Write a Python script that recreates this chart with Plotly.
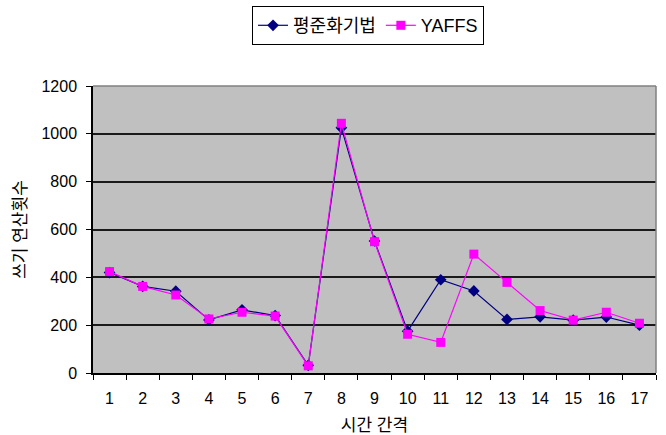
import plotly.graph_objects as go

# Time interval categories
intervals = [str(i) for i in range(1, 18)]

# Write operation counts per interval
leveling = [420, 362, 342, 222, 264, 240, 32, 1025, 552, 175, 390, 343, 224, 235, 221, 234, 200]
yaffs = [424, 362, 326, 226, 254, 238, 30, 1044, 549, 162, 128, 497, 379, 261, 221, 254, 208]

y_ticks = [0, 200, 400, 600, 800, 1000, 1200]

font_main = "Liberation Sans, Noto Sans CJK KR, sans-serif"

fig = go.Figure()
fig.add_trace(go.Scatter(
    x=intervals, y=leveling, name="평준화기법", mode="lines+markers",
    line=dict(color="#000080", width=1.2),
    marker=dict(symbol="diamond", size=9, color="#000080"),
))
fig.add_trace(go.Scatter(
    x=intervals, y=yaffs, name="YAFFS", mode="lines+markers",
    line=dict(color="#FF00FF", width=1.2),
    marker=dict(symbol="square", size=9, color="#FF00FF"),
))

fig.update_layout(
    width=666, height=435,
    margin=dict(l=93, r=10, t=86, b=62, autoexpand=False),
    paper_bgcolor="white",
    plot_bgcolor="#C0C0C0",
    font=dict(family=font_main, size=16, color="black"),
    showlegend=True,
    legend=dict(
        orientation="h", xref="container", yref="container",
        x=0.5526, xanchor="center", y=0.986, yanchor="top",
        bordercolor="black", borderwidth=1, bgcolor="white",
        font=dict(family=font_main, size=18),
    ),
    xaxis=dict(
        type="category", range=[-0.5, 16.5], tickson="boundaries",
        ticks="outside", ticklen=5, ticklabelstandoff=10, automargin=False,
        tickcolor="black", showline=True, linecolor="black", linewidth=1.5,
        showgrid=False, title=dict(text="시간 간격", standoff=13, font=dict(size=17)),
        tickfont=dict(family=font_main, size=16),
    ),
    yaxis=dict(
        range=[0, 1200], tickvals=y_ticks, ticks="outside", ticklen=5,
        ticklabelstandoff=6, automargin=False,
        tickcolor="black", showline=True, linecolor="black", linewidth=1.5,
        showgrid=True, gridcolor="#1a1a1a", gridwidth=1.5, zeroline=False,
        title=dict(text="쓰기 연산횟수", standoff=11, font=dict(size=17)),
        tickfont=dict(family=font_main, size=16),
    ),
    shapes=[
        dict(type="line", xref="paper", yref="paper", x0=0, x1=1, y0=1, y1=1,
             line=dict(color="#808080", width=1.5), layer="above"),
        dict(type="line", xref="paper", yref="paper", x0=1, x1=1, y0=0, y1=1,
             line=dict(color="#808080", width=1.5), layer="above"),
    ],
)

fig.write_html("out.html")
